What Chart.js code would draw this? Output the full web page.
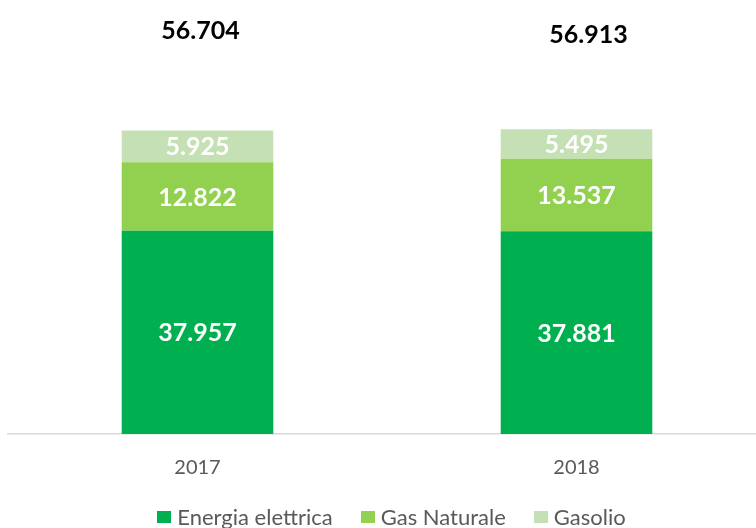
<!DOCTYPE html>
<html>
<head>
<meta charset="utf-8">
<script src="https://cdn.jsdelivr.net/npm/chart.js@4/dist/chart.umd.min.js"></script>
<style>
  body { margin: 0; background: #fff; }
  #wrap { position: relative; width: 756px; height: 528px; overflow: hidden; }
  #myBarChart { position: absolute; left: 0; top: 0; }
  #chart-legend {
    position: absolute; left: 0; top: 503px; width: 783px;
    display: flex; justify-content: center;
    font-family: Lato, sans-serif; font-size: 22px; color: #595959;
  }
</style>
</head>
<body>
<div id="wrap">
  <canvas id="myBarChart" width="766" height="521"></canvas>
  <div id="chart-legend"></div>
</div>
<script>
var years = ['2017', '2018'];
var energia = [37957, 37881];
var gas = [12822, 13537];
var gasolio = [5925, 5495];
var seriesNames = ['Energia elettrica', 'Gas Naturale', 'Gasolio'];
var colors = ['#00B050', '#92D050', '#C5E0B4'];

var totals = years.map((y, i) => energia[i] + gas[i] + gasolio[i]);

function fmt(v) {
    return v.toLocaleString('de-DE');
}

var data = {
    labels: years,
    datasets: [energia, gas, gasolio].map(function(vals, i) {
        return {
            label: seriesNames[i],
            data: vals,
            backgroundColor: colors[i],
            barPercentage: 0.4,
            categoryPercentage: 1.0
        };
    })
};

// value labels inside bars and totals on top
var labelPlugin = {
    id: 'labels',
    afterDatasetsDraw: function(chart) {
        var ctx = chart.ctx;
        ctx.save();
        ctx.textAlign = 'center';
        ctx.textBaseline = 'middle';
        ctx.font = 'bold 25px Lato';
        ctx.fillStyle = '#ffffff';
        chart.data.datasets.forEach(function(ds, di) {
            chart.getDatasetMeta(di).data.forEach(function(bar, i) {
                var p = bar.getProps(['x', 'y', 'base'], true);
                ctx.fillText(fmt(ds.data[i]), p.x, (p.y + p.base) / 2 + 1);
            });
        });
        // totals float well above the bars
        var shift = [[3, -99], [12, -94]];
        var top = chart.getDatasetMeta(2).data;
        ctx.fillStyle = '#000000';
        totals.forEach(function(t, i) {
            var p = top[i].getProps(['x', 'y'], true);
            ctx.fillText(fmt(t), p.x + shift[i][0], p.y + shift[i][1]);
        });
        ctx.restore();
    }
};

var options = {
    responsive: false,
    maintainAspectRatio: false,
    animation: false,
    layout: { padding: { left: 8, right: 0, top: 3, bottom: 19 } },
    plugins: {
        legend: { display: false },
        tooltip: { enabled: false }
    },
    scales: {
        x: {
            stacked: true,
            grid: { display: false, drawTicks: false },
            border: { display: true, color: '#D9D9D9', width: 1.5 },
            ticks: { color: '#595959', font: { family: 'Lato', size: 20 }, padding: 22 }
        },
        y: {
            stacked: true,
            display: false,
            min: 0,
            max: 80500
        }
    }
};

var ctx = document.getElementById('myBarChart').getContext('2d');
var myBarChart = new Chart(ctx, {
    type: 'bar',
    data: data,
    options: options,
    plugins: [labelPlugin]
});

var legendDiv = document.getElementById('chart-legend');
seriesNames.forEach(function(label, index) {
    var legendItem = document.createElement('div');
    legendItem.style.display = 'flex';
    legendItem.style.alignItems = 'center';
    legendItem.style.margin = '0 14px';
    legendItem.innerHTML = `<span style="background-color: ${colors[index]}; display: inline-block; width: 14px; height: 12px; margin-right: 6px;"></span>${label}`;
    legendDiv.appendChild(legendItem);
});
</script>
</body>
</html>
